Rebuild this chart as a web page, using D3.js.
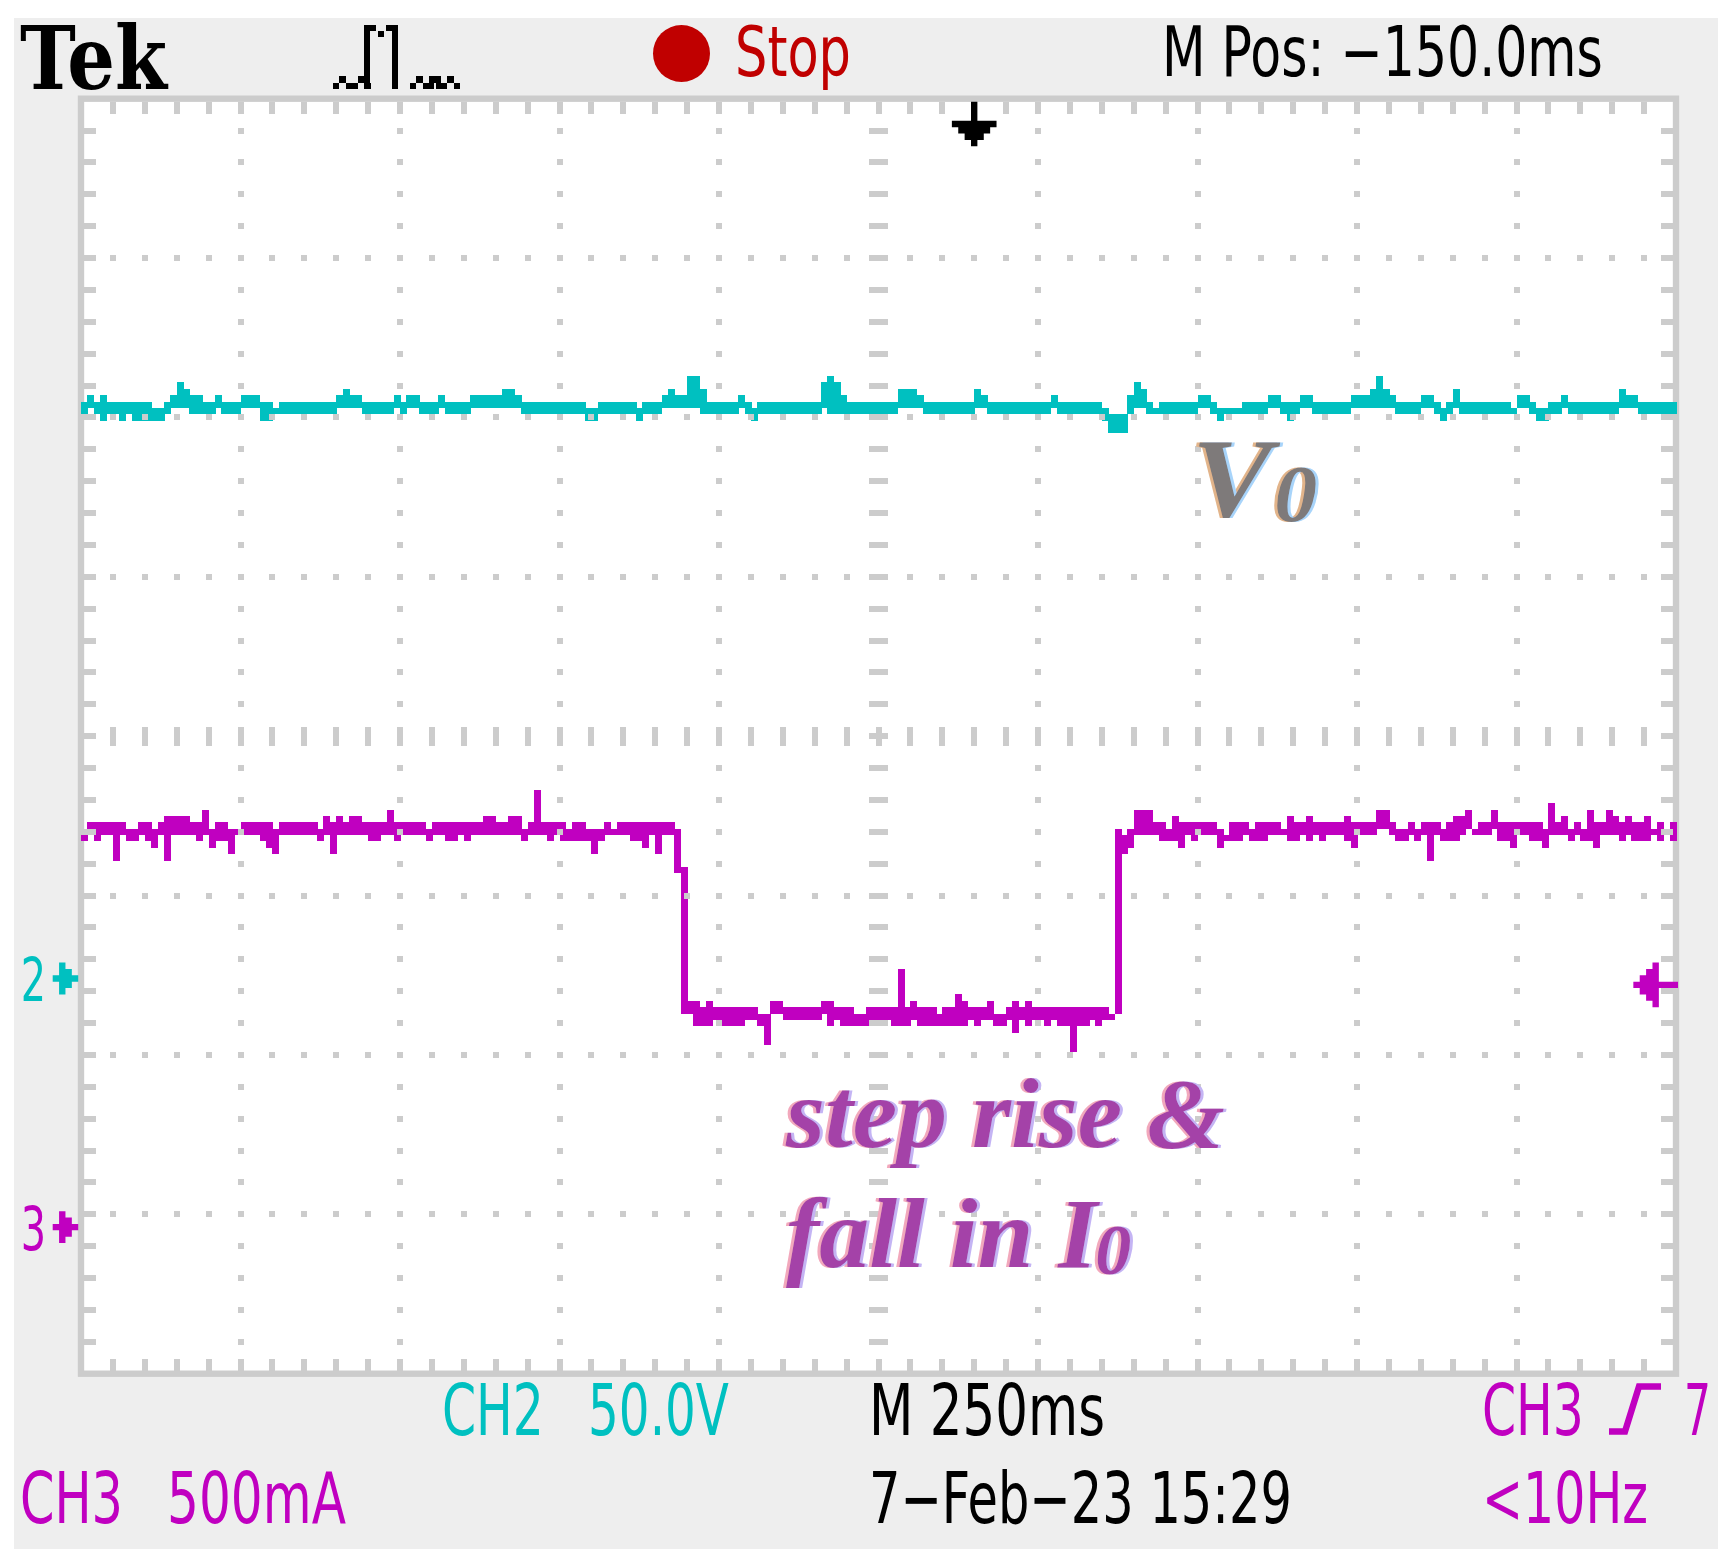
<!DOCTYPE html>
<html>
<head>
<meta charset="utf-8">
<script src="https://cdn.jsdelivr.net/npm/d3@7"></script>
<style>
body { margin: 0; background: #fff; }
</style>
</head>
<body>
<div id="viz"></div>
<script>
///Declarations
//1. Scope settings
const TIME_RANGE = [-1400, 1100];      // ms, 250 ms/div, M Pos -150 ms
const CH2_VOLTS_PER_DIV = 50;
const CH3_AMPS_PER_DIV = 0.5;
const CH2_OFFSET = -1.52;              // ground marker, div from centre
const CH3_OFFSET = -3.08;
const TRIGGER_LEVEL = 0.76;            // A on CH3
const TRIGGER_TIME = 0;                // ms

//2. Traces: [start ms, top, bottom]
// CH2 output voltage V0 (volts)
const ch2Runs = [
  [-1400,181,177],[-1390,183,179],[-1380,181,177],[-1370,183,175],[-1360,181,177],
  [-1340,181,175],[-1330,181,177],[-1320,181,175],[-1290,179,175],[-1270,181,177],
  [-1260,183,179],[-1250,187,179],[-1240,185,179],[-1230,183,177],[-1210,181,177],
  [-1190,183,179],[-1180,181,177],[-1150,183,179],[-1120,181,175],[-1100,179,177],
  [-1090,181,177],[-1000,183,179],[-990,185,179],[-980,183,179],[-960,181,177],
  [-910,183,179],[-900,181,177],[-890,183,179],[-870,181,177],[-840,183,179],
  [-830,181,177],[-790,183,179],[-740,185,179],[-720,183,179],[-710,181,177],
  [-610,179,175],[-590,181,177],[-530,179,175],[-520,181,177],[-490,183,179],
  [-480,185,179],[-470,183,179],[-450,189,179],[-430,185,177],[-420,181,177],
  [-370,183,179],[-360,181,177],[-350,179,175],[-340,181,177],[-240,187,179],
  [-230,189,177],[-220,187,177],[-210,183,177],[-200,181,177],[-120,185,179],
  [-90,183,179],[-80,181,177],[0,185,179],[10,183,179],[20,181,177],
  [120,183,179],[130,181,177],[200,179,175],[210,177,171],[240,183,177],
  [250,187,179],[260,185,179],[270,181,177],[280,179,177],[290,181,177],
  [350,183,179],[370,181,177],[380,179,175],[390,179,177],[420,181,177],
  [460,183,179],[480,181,177],[490,181,175],[500,181,177],[510,183,179],
  [530,181,177],[590,183,179],[620,185,179],[630,189,179],[640,185,179],
  [650,183,179],[660,181,177],[700,183,179],[720,181,177],[730,179,175],
  [740,181,177],[750,185,179],[760,181,177],[840,179,177],[850,183,179],
  [870,181,177],[880,179,175],[900,181,177],[920,183,179],[930,181,177],
  [1010,185,179],[1020,183,179],[1040,181,177]
];

// CH3 load current I0 (amps)
const ch3Runs = [
  [-1400,1.23,1.21],[-1390,1.27,1.23],[-1380,1.27,1.21],[-1370,1.27,1.23],[-1350,1.27,1.15],
  [-1340,1.27,1.23],[-1330,1.25,1.21],[-1310,1.27,1.23],[-1300,1.27,1.21],[-1290,1.25,1.19],
  [-1280,1.27,1.23],[-1270,1.29,1.15],[-1260,1.29,1.23],[-1230,1.27,1.23],[-1220,1.27,1.21],
  [-1210,1.31,1.23],[-1200,1.25,1.19],[-1190,1.27,1.21],[-1170,1.25,1.17],[-1160,1.25,1.23],
  [-1150,1.27,1.23],[-1120,1.27,1.21],[-1110,1.27,1.19],[-1100,1.25,1.17],[-1090,1.27,1.23],
  [-1030,1.25,1.21],[-1020,1.29,1.23],[-1010,1.27,1.17],[-1000,1.29,1.23],[-990,1.27,1.23],
  [-980,1.29,1.23],[-960,1.27,1.23],[-950,1.27,1.21],[-930,1.27,1.23],[-920,1.31,1.23],
  [-910,1.27,1.21],[-900,1.27,1.23],[-860,1.25,1.21],[-850,1.27,1.23],[-830,1.27,1.21],
  [-810,1.27,1.23],[-800,1.27,1.21],[-790,1.27,1.23],[-770,1.29,1.23],[-750,1.27,1.23],
  [-730,1.29,1.23],[-710,1.25,1.21],[-700,1.27,1.23],[-690,1.37,1.23],[-680,1.27,1.23],
  [-670,1.27,1.21],[-660,1.27,1.23],[-650,1.27,1.21],[-640,1.25,1.21],[-630,1.27,1.21],
  [-610,1.25,1.21],[-600,1.25,1.17],[-590,1.25,1.21],[-580,1.27,1.23],[-570,1.25,1.23],
  [-560,1.27,1.23],[-540,1.27,1.21],[-520,1.27,1.19],[-510,1.27,1.23],[-500,1.27,1.17],
  [-490,1.27,1.23],[-470,1.25,1.11],[-460,1.13,0.67],[-450,0.71,0.67],[-440,0.71,0.63],
  [-430,0.69,0.63],[-420,0.71,0.63],[-410,0.69,0.65],[-400,0.69,0.63],[-360,0.69,0.65],
  [-340,0.67,0.63],[-330,0.67,0.57],[-320,0.71,0.67],[-300,0.69,0.65],[-240,0.71,0.67],
  [-230,0.71,0.63],[-220,0.69,0.65],[-210,0.69,0.63],[-190,0.67,0.63],[-170,0.69,0.63],
  [-160,0.69,0.65],[-130,0.69,0.63],[-120,0.81,0.63],[-110,0.69,0.63],[-100,0.71,0.65],
  [-90,0.69,0.63],[-60,0.67,0.63],[-50,0.69,0.63],[-30,0.73,0.63],[-20,0.71,0.63],
  [-10,0.69,0.65],[0,0.69,0.63],[10,0.69,0.65],[20,0.71,0.65],[30,0.67,0.63],
  [50,0.69,0.65],[60,0.71,0.61],[70,0.69,0.65],[80,0.71,0.63],[90,0.69,0.65],
  [110,0.69,0.63],[120,0.69,0.65],[130,0.69,0.63],[150,0.69,0.55],[160,0.69,0.63],
  [180,0.69,0.65],[190,0.69,0.63],[200,0.69,0.65],[210,0.67,0.65],[220,1.25,0.67],
  [230,1.23,1.17],[240,1.25,1.19],[250,1.31,1.23],[280,1.27,1.23],[290,1.27,1.21],
  [300,1.25,1.21],[310,1.29,1.21],[320,1.27,1.19],[330,1.27,1.23],[340,1.27,1.21],
  [350,1.27,1.23],[380,1.25,1.19],[390,1.23,1.21],[400,1.27,1.21],[420,1.27,1.23],
  [430,1.25,1.21],[440,1.27,1.21],[460,1.27,1.23],[480,1.25,1.23],[490,1.29,1.21],
  [500,1.27,1.21],[510,1.27,1.23],[520,1.29,1.21],[530,1.27,1.23],[540,1.27,1.21],
  [550,1.27,1.23],[580,1.29,1.21],[590,1.27,1.19],[600,1.27,1.23],[630,1.31,1.25],
  [650,1.27,1.23],[660,1.25,1.21],[680,1.27,1.23],[690,1.25,1.21],[700,1.27,1.23],
  [710,1.27,1.15],[720,1.27,1.23],[730,1.25,1.21],[740,1.27,1.21],[750,1.29,1.21],
  [760,1.29,1.23],[770,1.31,1.25],[780,1.25,1.23],[790,1.27,1.23],[810,1.31,1.25],
  [820,1.27,1.21],[840,1.27,1.19],[850,1.27,1.23],[870,1.27,1.21],[890,1.25,1.19],
  [900,1.33,1.23],[910,1.27,1.23],[920,1.29,1.23],[930,1.25,1.21],[940,1.27,1.23],
  [950,1.25,1.21],[960,1.31,1.21],[970,1.27,1.19],[980,1.27,1.23],[990,1.31,1.23],
  [1000,1.29,1.23],[1010,1.27,1.21],[1020,1.29,1.23],[1030,1.27,1.21],[1050,1.29,1.21],
  [1060,1.25,1.23],[1070,1.27,1.21],[1080,1.25,1.23],[1090,1.27,1.21]
];

//3. Readouts
const HEADER = {tek: "Tek", state: "Stop", pos: "M Pos: \u2212150.0ms"};
const FOOTER_ROW1 = {ch2: "CH2", ch2Scale: "50.0V", time: "M 250ms", trig: "CH3", trigLevel: "7"};
const FOOTER_ROW2 = {ch3: "CH3", ch3Scale: "500mA", date: "7\u2212Feb\u221223 15:29", freq: "<10Hz"};
const LABEL_V = ["V", "0"];
const LABEL_I = ["step rise &", "fall in I", "0"];

///Layout
const W = 1732, H = 1564;
const plot = {x0: 81, x1: 1676, y0: 98.7, y1: 1373.7};
const DIVS_X = 10, DIVS_Y = 8, MINOR = 5;
const PX = 6.38;      // one screen pixel of the scope
const CYAN = "#00c0c0", MAGENTA = "#c000c0", RED = "#c00000", GRID = "#cccccc";

var svg = d3.select("#viz").append("svg").attr("width", W).attr("height", H);
var defs = svg.append("defs");

var x = d3.scaleLinear().domain(TIME_RANGE).range([plot.x0, plot.x1]);
var yDiv = d3.scaleLinear().domain([-DIVS_Y / 2, DIVS_Y / 2]).range([plot.y1, plot.y0]);
var yCh2 = d3.scaleLinear()
  .domain([(-4 - CH2_OFFSET) * CH2_VOLTS_PER_DIV, (4 - CH2_OFFSET) * CH2_VOLTS_PER_DIV])
  .range([plot.y1, plot.y0]);
var yCh3 = d3.scaleLinear()
  .domain([(-4 - CH3_OFFSET) * CH3_AMPS_PER_DIV, (4 - CH3_OFFSET) * CH3_AMPS_PER_DIV])
  .range([plot.y1, plot.y0]);

// background
svg.append("rect").attr("width", W).attr("height", H).attr("fill", "#fff");
svg.append("rect").attr("x", 14).attr("y", 18).attr("width", 1704).attr("height", 1531).attr("fill", "#eeeeee");
svg.append("rect").attr("x", plot.x0).attr("y", plot.y0)
  .attr("width", plot.x1 - plot.x0).attr("height", plot.y1 - plot.y0)
  .attr("fill", "#fff").attr("stroke", GRID).attr("stroke-width", PX);

//Traces
function draw_runs(runs, y, color) {
  svg.append("g").selectAll("rect").data(runs).join("rect")
    .attr("x", d => x(d[0]))
    .attr("width", (d, i) => x(i < runs.length - 1 ? runs[i + 1][0] : TIME_RANGE[1]) - x(d[0]) + 0.6)
    .attr("y", d => y(d[1]))
    .attr("height", d => y(d[2]) - y(d[1]))
    .attr("fill", color)
    .attr("shape-rendering", "crispEdges");
}
draw_runs(ch2Runs, yCh2, CYAN);
draw_runs(ch3Runs, yCh3, MAGENTA);

//Graticule (drawn over the traces, like the scope does)
var grat = svg.append("g").attr("fill", GRID).attr("shape-rendering", "crispEdges");
const divW = (plot.x1 - plot.x0) / DIVS_X, divH = (plot.y1 - plot.y0) / DIVS_Y;
const mW = divW / MINOR, mH = divH / MINOR;
const xc = plot.x0 + divW * DIVS_X / 2, yc = plot.y0 + divH * DIVS_Y / 2;
const edge = PX / 2;

d3.range(1, DIVS_X * MINOR).forEach(k => {
  let px = plot.x0 + k * mW;
  grat.append("rect").attr("x", px - 3).attr("y", plot.y0 + edge).attr("width", 6).attr("height", 12);
  grat.append("rect").attr("x", px - 3).attr("y", plot.y1 - edge - 12).attr("width", 6).attr("height", 12);
  grat.append("rect").attr("x", px - 3).attr("y", yc - 9.5).attr("width", 6).attr("height", 19);
  d3.range(1, DIVS_Y).forEach(j => {
    if (j == DIVS_Y / 2) return;
    grat.append("rect").attr("x", px - 3).attr("y", plot.y0 + j * divH - 3).attr("width", 6).attr("height", 6);
  });
});
d3.range(1, DIVS_Y * MINOR).forEach(k => {
  let py = plot.y0 + k * mH;
  grat.append("rect").attr("x", plot.x0 + edge).attr("y", py - 3).attr("width", 12).attr("height", 6);
  grat.append("rect").attr("x", plot.x1 - edge - 12).attr("y", py - 3).attr("width", 12).attr("height", 6);
  grat.append("rect").attr("x", xc - 9.5).attr("y", py - 3).attr("width", 19).attr("height", 6);
  d3.range(1, DIVS_X).forEach(j => {
    if (j == DIVS_X / 2) return;
    grat.append("rect").attr("x", plot.x0 + j * divW - 3).attr("y", py - 3).attr("width", 6).attr("height", 6);
  });
});

//Text helper: squeeze a text horizontally to a measured width, optional subscript
function fit_text(str, x0, base, len, color, opts) {
  opts = opts || {};
  let t = svg.append("text").attr("x", 0).attr("y", 0)
    .attr("font-family", opts.family || "DejaVu Sans")
    .attr("font-weight", opts.weight || "normal")
    .attr("font-style", opts.style || "normal")
    .attr("font-size", opts.size || 71)
    .attr("fill", color);
  t.append("tspan").text(str);
  if (opts.sub) {
    t.append("tspan").attr("font-size", opts.subSize).attr("dx", opts.subDx || 0)
      .attr("dy", opts.subDy || 0).text(opts.sub);
  }
  if (opts.filter) t.attr("filter", "url(#" + opts.filter + ")");
  let w = t.node().getComputedTextLength() || len;
  t.attr("transform", "translate(" + x0 + "," + base + ") scale(" + (len / w) + ",1)");
  return t;
}

//Markers: pixel arrows built column by column (half heights in screen pixels)
function pixel_arrow(x0, cy, dir, halfs) {
  let top = [], bottom = [];
  halfs.forEach((h, i) => {
    let a = x0 + dir * i * PX, b = x0 + dir * (i + 1) * PX;
    top.push([a, cy - h * PX], [b, cy - h * PX]);
    bottom.unshift([b, cy + h * PX], [a, cy + h * PX]);
  });
  return "M" + top.concat(bottom).map(p => p.join(",")).join("L") + "Z";
}

function ground_marker(label, offset, color) {
  let cy = yDiv(offset);
  fit_text(label, 20.7, cy + 22.5, 25.3, color, {size: 61});
  svg.append("path").attr("d", pixel_arrow(plot.x0 - 28.3, cy, 1, [0.5, 2.5, 1.5, 0.5]))
    .attr("fill", color);
}
ground_marker("2", CH2_OFFSET, CYAN);
ground_marker("3", CH3_OFFSET, MAGENTA);

// trigger level, right edge
svg.append("path")
  .attr("d", pixel_arrow(plot.x1 + 2, yCh3(TRIGGER_LEVEL), -1, [0.5, 0.5, 0.5, 3.5, 2.5, 1.5, 0.5]))
  .attr("fill", MAGENTA);

// trigger position, top edge (rows rotated)
(function () {
  let cx = x(TRIGGER_TIME), rows = [0.5, 0.5, 0.5, 3.5, 2.5, 1.5, 0.5];
  let left = [], right = [];
  rows.forEach((h, i) => {
    let a = plot.y0 + 3 + i * PX, b = a + PX;
    right.push([cx + h * PX, a], [cx + h * PX, b]);
    left.unshift([cx - h * PX, b], [cx - h * PX, a]);
  });
  svg.append("path").attr("d", "M" + right.concat(left).map(p => p.join(",")).join("L") + "Z")
    .attr("fill", "#000");
})();

//Readouts
fit_text(HEADER.tek, 20, 89, 147, "#000", {family: "DejaVu Serif", weight: "bold", size: 88});
fit_text(HEADER.state, 735, 76, 116, RED, {size: 70});
fit_text(HEADER.pos, 1162, 76, 441, "#000", {size: 70});
svg.append("circle").attr("cx", 681.5).attr("cy", 53.5).attr("r", 28.5).attr("fill", RED);

// acquisition icon
(function () {
  let g = svg.append("g").attr("fill", "#000").attr("shape-rendering", "crispEdges");
  g.append("rect").attr("x", 364).attr("y", 25).attr("width", 6.4).attr("height", 64);
  g.append("rect").attr("x", 392).attr("y", 25).attr("width", 6.4).attr("height", 64);
  g.append("rect").attr("x", 370).attr("y", 25).attr("width", 6).attr("height", 6.4);
  g.append("rect").attr("x", 386).attr("y", 25).attr("width", 6).attr("height", 6.4);
  g.append("rect").attr("x", 378).attr("y", 31).attr("width", 6).attr("height", 6.4);
  [333, 352, 410, 428].forEach((c, i) => {
    d3.range(i < 2 ? 2 : 3).forEach(k => {
      g.append("rect").attr("x", c + k * 12.8).attr("y", 82.6).attr("width", 6.4).attr("height", 6.4);
      if (k < (i < 2 ? 1 : 2)) g.append("rect").attr("x", c + 6.4 + k * 12.8).attr("y", 76.2).attr("width", 6.4).attr("height", 6.4);
    });
  });
})();

fit_text(FOOTER_ROW1.ch2, 442, 1435, 102, CYAN);
fit_text(FOOTER_ROW1.ch2Scale, 588, 1435, 141, CYAN);
fit_text(FOOTER_ROW1.time, 869, 1435, 236, "#000");
fit_text(FOOTER_ROW1.trig, 1482, 1435, 102, MAGENTA);
fit_text(FOOTER_ROW1.trigLevel, 1684, 1435, 27, MAGENTA);
svg.append("path").attr("d", "M1609,1431.5H1625L1639,1386.5H1661")
  .attr("fill", "none").attr("stroke", MAGENTA).attr("stroke-width", 6.4);

fit_text(FOOTER_ROW2.ch3, 20, 1523, 103, MAGENTA);
fit_text(FOOTER_ROW2.ch3Scale, 167, 1523, 179, MAGENTA);
fit_text(FOOTER_ROW2.date, 869, 1523, 423, "#000");
fit_text(FOOTER_ROW2.freq, 1482, 1523, 166, MAGENTA);

//Annotations pasted on the screenshot (colour fringes through a filter)
function make_fringe(id, lo, hi) {
  let f = defs.append("filter").attr("id", id)
    .attr("x", "-10%").attr("y", "-10%").attr("width", "120%").attr("height", "120%");
  [[lo, -3, "l"], [hi, 3, "r"]].forEach(([c, dx, n]) => {
    f.append("feFlood").attr("flood-color", c).attr("result", n + "c");
    f.append("feComposite").attr("in", n + "c").attr("in2", "SourceAlpha").attr("operator", "in").attr("result", n + "s");
    f.append("feOffset").attr("in", n + "s").attr("dx", dx).attr("dy", 0).attr("result", n + "o");
  });
  let m = f.append("feMerge");
  m.append("feMergeNode").attr("in", "lo");
  m.append("feMergeNode").attr("in", "ro");
  m.append("feMergeNode").attr("in", "SourceGraphic");
}
make_fringe("fringeV", "#e2b48a", "#a8d4fa");
make_fringe("fringeI", "#f2a8bc", "#c4b4f4");

const serifItalic = {family: "Liberation Serif", style: "italic", weight: "bold"};
fit_text(LABEL_V[0], 1192, 516, 123, "#7e7a7a",
  Object.assign({size: 112, sub: LABEL_V[1], subSize: 80, subDx: 2, subDy: 5, filter: "fringeV"}, serifItalic));

// two-line current label kept in one text block
(function () {
  let t = svg.append("text").attr("font-family", serifItalic.family)
    .attr("font-style", "italic").attr("font-weight", "bold").attr("font-size", 100)
    .attr("fill", "#a443a8").attr("filter", "url(#fringeI)");
  t.append("tspan").attr("x", 786).attr("y", 1147).text(LABEL_I[0]);
  t.append("tspan").attr("x", 786).attr("y", 1267).text(LABEL_I[1]);
  t.append("tspan").attr("font-size", 72).attr("dx", -2).attr("dy", 7).text(LABEL_I[2]);
})();
</script>
</body>
</html>
